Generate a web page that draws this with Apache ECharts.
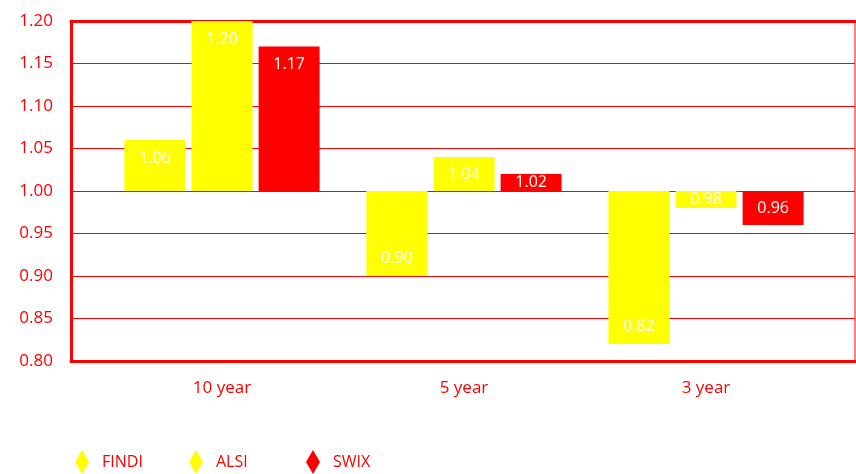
<!DOCTYPE html>
<html>
<head>
<meta charset="utf-8">
<script src="https://cdn.jsdelivr.net/npm/echarts@6/dist/echarts.min.js"></script>
<style>
  html, body { margin: 0; padding: 0; background: #ffffff; }
  #chart { width: 856px; height: 474px; }
</style>
</head>
<body>
<div id="chart"></div>
<script>
// Relative performance by horizon, bars hang from a 1.00 baseline
const categories = ['10 year', '5 year', '3 year'];
const findi = [1.06, 0.90, 0.82];
const alsi = [1.20, 1.04, 0.98];
const swix = [1.17, 1.02, 0.96];
const seriesNames = ['FINDI', 'ALSI', 'SWIX'];
const yTicks = { min: 0.80, max: 1.20, step: 0.05 };
const BASE = 1.00;

const RED = '#ff0000';
const YELLOW = '#ffff00';
const FONT = '"Open Sans", "Noto Sans", sans-serif';

// Bars are plotted as offsets from the baseline so they grow up or down from 1.00
function toItems(values) {
  return values.map(function (v) {
    const d = v - BASE;
    const big = Math.abs(d) >= 0.045;
    return {
      value: d,
      raw: v,
      label: {
        position: big ? (d >= 0 ? 'insideTop' : 'insideBottom') : 'inside',
        distance: 10
      }
    };
  });
}

function barSeries(name, values, color) {
  return {
    name: name,
    type: 'bar',
    xAxisIndex: 2,
    yAxisIndex: 1,
    barWidth: 61,
    barGap: '10%',
    itemStyle: { color: color },
    label: {
      show: true,
      color: '#ffffff',
      fontFamily: FONT,
      fontSize: 16,
      formatter: function (p) { return p.data.raw.toFixed(2); }
    },
    data: toItems(values)
  };
}

// One legend entry per component so each sits at its own spot along the bottom
const legendLefts = [75, 189, 306];
const legends = seriesNames.map(function (name, i) {
  return {
    data: [name],
    icon: 'diamond',
    symbolKeepAspect: false,
    padding: 0,
    left: legendLefts[i],
    top: 450,
    itemWidth: 14,
    itemHeight: 24,
    textStyle: { color: RED, fontFamily: FONT, fontSize: 16, padding: [0, 0, 0, 8] }
  };
});

const chart = echarts.init(document.getElementById('chart'), null, { renderer: 'canvas' });

chart.setOption({
  animation: false,
  backgroundColor: '#ffffff',
  grid: [
    // frame with the value scale and gridlines
    { left: 71, right: 1, top: 21, bottom: 113, show: true, borderColor: RED, borderWidth: 1, backgroundColor: 'transparent' },
    // inner band holding the category groups
    { left: 101, width: 726, top: 21, bottom: 113 }
  ],
  legend: legends,
  xAxis: [
    {
      gridIndex: 0, type: 'value', position: 'bottom',
      axisLine: { show: true, onZero: false, lineStyle: { color: RED, width: 3 } },
      axisTick: { show: false }, axisLabel: { show: false }, splitLine: { show: false }
    },
    {
      gridIndex: 0, type: 'value', position: 'top',
      axisLine: { show: true, onZero: false, lineStyle: { color: RED, width: 3 } },
      axisTick: { show: false }, axisLabel: { show: false }, splitLine: { show: false }
    },
    {
      gridIndex: 1, type: 'category', data: categories,
      axisLine: { show: false }, axisTick: { show: false },
      axisLabel: { color: RED, fontFamily: FONT, fontSize: 17, margin: 19 }
    }
  ],
  yAxis: [
    {
      gridIndex: 0, type: 'value',
      min: yTicks.min, max: yTicks.max, interval: yTicks.step,
      axisLine: { show: true, lineStyle: { color: RED, width: 3 } },
      axisTick: { show: false },
      axisLabel: {
        color: RED, fontFamily: FONT, fontSize: 17, margin: 18,
        formatter: function (v) { return v.toFixed(2); }
      },
      splitLine: { show: true, lineStyle: { color: RED, width: 1 } }
    },
    {
      gridIndex: 1, type: 'value', show: false,
      min: yTicks.min - BASE, max: yTicks.max - BASE,
      splitLine: { show: false }
    }
  ],
  series: [
    barSeries(seriesNames[0], findi, YELLOW),
    barSeries(seriesNames[1], alsi, YELLOW),
    barSeries(seriesNames[2], swix, RED)
  ]
});
</script>
</body>
</html>
